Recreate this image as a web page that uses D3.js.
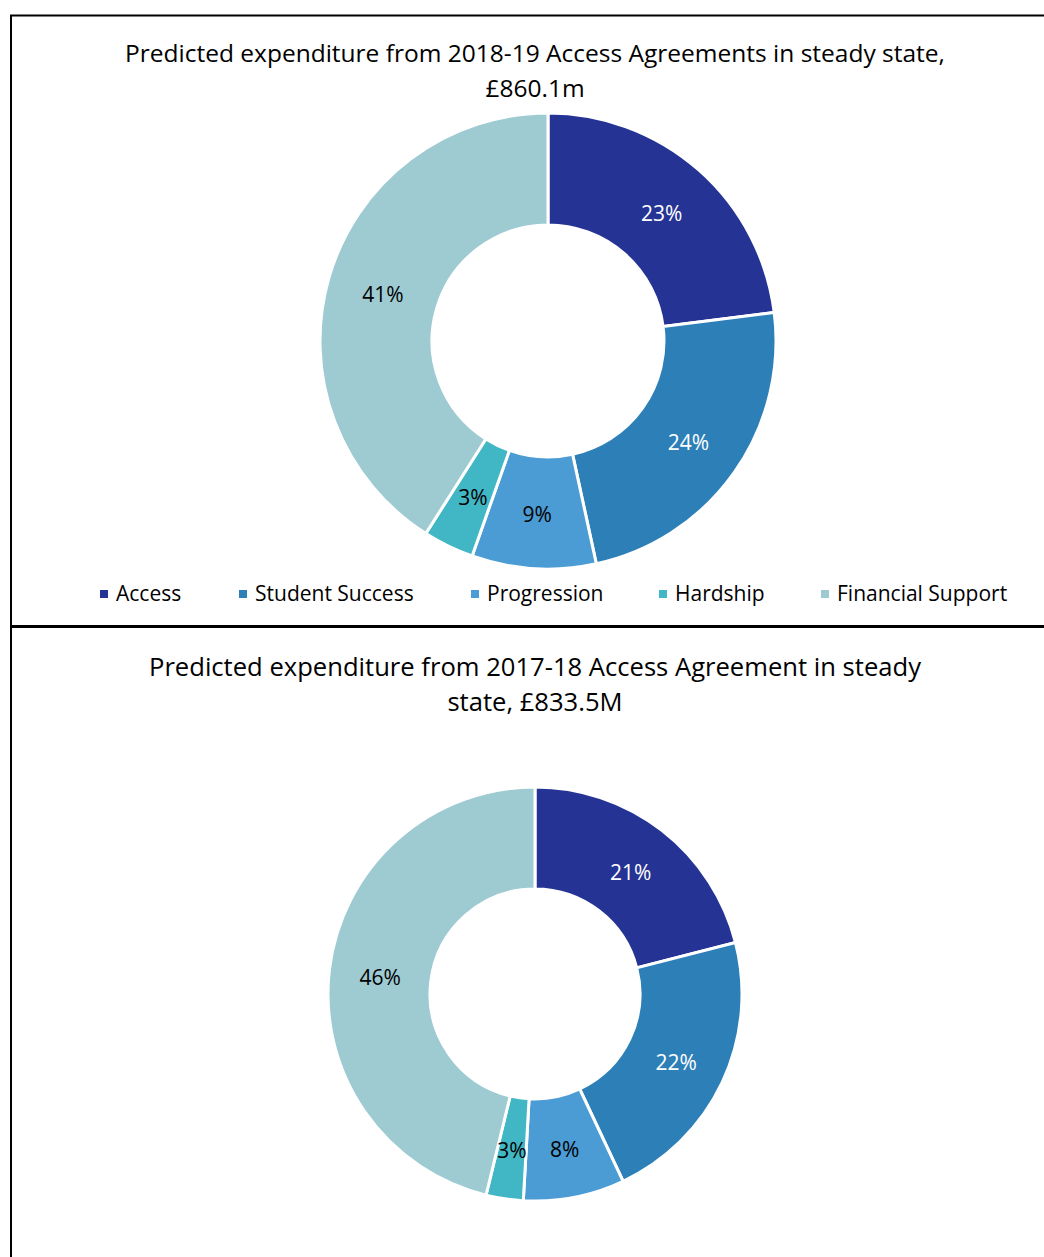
<!DOCTYPE html>
<meta charset="utf-8">
<head>
  <title>Access Agreements expenditure</title>
</head>

<style>
body {
  margin: 0;
  background: #fff;
  font-family: "Open Sans", "Noto Sans", sans-serif;
}
</style>

<body>
  <div id="content">
    <svg width="1044" height="1257"></svg>
  </div>

  <script src="https://cdnjs.cloudflare.com/ajax/libs/d3/7.8.5/d3.min.js"></script>

  <script>
// Data (share of expenditure, %)
var categories = ['Access', 'Student Success', 'Progression', 'Hardship', 'Financial Support'];
var colours = ['#253494', '#2d7fb8', '#4b9bd4', '#41b6c4', '#9ecad2'];
var values2018 = [23.0, 23.6, 8.8, 3.6, 41.0];
var values2017 = [21.0, 22.0, 7.9, 2.9, 46.2];
var labels2018 = ['23%', '24%', '9%', '3%', '41%'];
var labels2017 = ['21%', '22%', '8%', '3%', '46%'];
var labelFill = ['#fff', '#fff', '#000', '#000', '#000'];

var svg = d3.select('#content svg');

var colour = d3.scaleOrdinal().domain(categories).range(colours);

// Frame lines
svg.append('line').attr('x1', 10).attr('x2', 1044).attr('y1', 15.5).attr('y2', 15.5)
  .attr('stroke', '#000').attr('stroke-width', 2);
svg.append('line').attr('x1', 11).attr('x2', 11).attr('y1', 15).attr('y2', 1257)
  .attr('stroke', '#000').attr('stroke-width', 2);
svg.append('line').attr('x1', 10).attr('x2', 1044).attr('y1', 626.5).attr('y2', 626.5)
  .attr('stroke', '#000').attr('stroke-width', 3);

function donut(opts) {
  var g = svg.append('g').attr('transform', 'translate(' + opts.cx + ',' + opts.cy + ')');

  var pie = d3.pie().sort(null).value(function(d) { return d.value; });
  var arc = d3.arc().innerRadius(opts.inner).outerRadius(opts.outer);
  var labelArc = d3.arc().innerRadius((opts.inner + opts.outer) / 2).outerRadius((opts.inner + opts.outer) / 2);

  var data = categories.map(function(c, i) {
    return {name: c, value: opts.values[i], label: opts.labels[i], fill: labelFill[i]};
  });
  var arcs = pie(data);

  g.selectAll('path')
    .data(arcs)
    .enter().append('path')
    .attr('d', arc)
    .attr('fill', function(d) { return colour(d.data.name); })
    .attr('stroke', '#fff')
    .attr('stroke-width', 3);

  g.selectAll('text')
    .data(arcs)
    .enter().append('text')
    .attr('transform', function(d) { return 'translate(' + labelArc.centroid(d) + ')'; })
    .attr('text-anchor', 'middle')
    .attr('dy', '0.45em')
    .attr('font-size', 21)
    .attr('fill', function(d) { return d.data.fill; })
    .text(function(d) { return d.data.label; });

  var t = svg.append('text')
    .attr('text-anchor', 'middle')
    .attr('font-size', opts.titleSize)
    .attr('fill', '#000');
  opts.title.forEach(function(line, i) {
    t.append('tspan').attr('x', 535).attr('y', opts.titleY + i * 35).text(line);
  });
}

donut({
  cx: 548, cy: 341, outer: 228, inner: 116,
  values: values2018, labels: labels2018,
  title: ['Predicted expenditure from 2018-19 Access Agreements in steady state,', '£860.1m'],
  titleY: 62, titleSize: 24.5
});

donut({
  cx: 535, cy: 994, outer: 207, inner: 105,
  values: values2017, labels: labels2017,
  title: ['Predicted expenditure from 2017-18 Access Agreement in steady', 'state, £833.5M'],
  titleY: 676, titleSize: 25.6
});

// Legend (top chart only)
var legendX = [100, 239, 471, 659, 821];
var legend = svg.append('g');
var item = legend.selectAll('g')
  .data(categories)
  .enter().append('g')
  .attr('transform', function(d, i) { return 'translate(' + legendX[i] + ',594)'; });
item.append('rect')
  .attr('x', 0).attr('y', -4).attr('width', 8).attr('height', 8)
  .attr('fill', function(d) { return colour(d); });
item.append('text')
  .attr('x', 16).attr('dy', '0.35em')
  .attr('font-size', 21)
  .attr('fill', '#000')
  .text(function(d) { return d; });
  </script>
</body>
</html>
